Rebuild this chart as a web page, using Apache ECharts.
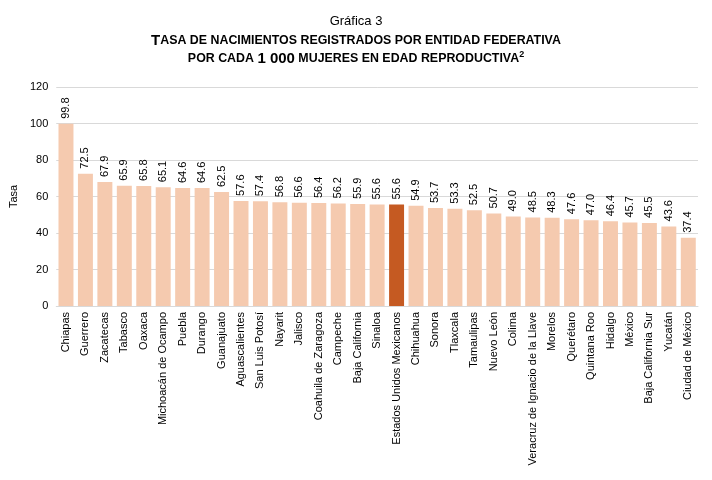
<!DOCTYPE html>
<html><head><meta charset="utf-8">
<script src="https://cdn.jsdelivr.net/npm/echarts@6/dist/echarts.min.js"></script>
<style>html,body{margin:0;padding:0;background:#fff}#c{width:712px;height:480px}</style>
</head><body><div id="c"></div>
<script>
var categories = ["Chiapas","Guerrero","Zacatecas","Tabasco","Oaxaca","Michoacán de Ocampo","Puebla","Durango","Guanajuato","Aguascalientes","San Luis Potosí","Nayarit","Jalisco","Coahuila de Zaragoza","Campeche","Baja California","Sinaloa","Estados Unidos Mexicanos","Chihuahua","Sonora","Tlaxcala","Tamaulipas","Nuevo León","Colima","Veracruz de Ignacio de la Llave","Morelos","Querétaro","Quintana Roo","Hidalgo","México","Baja California Sur","Yucatán","Ciudad de México"];
var values = [99.8,72.5,67.9,65.9,65.8,65.1,64.6,64.6,62.5,57.6,57.4,56.8,56.6,56.4,56.2,55.9,55.6,55.6,54.9,53.7,53.3,52.5,50.7,49.0,48.5,48.3,47.6,47.0,46.4,45.7,45.5,43.6,37.4];
var highlight = "Estados Unidos Mexicanos";
var yTicks = [0,20,40,60,80,100,120];

var chart = echarts.init(document.getElementById('c'), null, {renderer:'canvas'});
var font = 'Liberation Sans, Arial, sans-serif';
chart.setOption({
  animation:false,
  textStyle:{fontFamily:font},
  title:[{
    text:'Gráfica 3', left:'center', top:10,
    textStyle:{fontFamily:font,fontSize:13,fontWeight:'normal',color:'#000'}
  },{
    text:'{b|T}{s|ASA DE NACIMIENTOS REGISTRADOS POR ENTIDAD FEDERATIVA}\n{s|POR CADA }{b|1 000}{s| MUJERES EN EDAD REPRODUCTIVA}{sup|2}',
    left:'center', top:27,
    textStyle:{fontFamily:font,lineHeight:18,rich:{
      b:{fontFamily:font,fontSize:15,fontWeight:'bold',color:'#000',lineHeight:18},
      s:{fontFamily:font,fontSize:12.4,fontWeight:'bold',color:'#000',lineHeight:18},
      sup:{fontFamily:font,fontSize:9,fontWeight:'bold',color:'#000',verticalAlign:'top',lineHeight:18,padding:[0,0,6,0]}
    }}
  }],
  grid:{left:52,right:14,top:87,bottom:174},
  xAxis:{
    type:'category', data:categories,
    axisLine:{lineStyle:{color:'#D9D9D9'}},
    axisTick:{show:false},
    axisLabel:{rotate:90,interval:0,fontSize:11,color:'#000',fontFamily:font,margin:6}
  },
  yAxis:{
    type:'value', min:yTicks[0], max:yTicks[yTicks.length-1], interval:20,
    name:'Tasa', nameLocation:'middle', nameGap:35, nameRotate:90,
    nameTextStyle:{fontSize:11,color:'#000',fontFamily:font},
    axisLine:{show:false}, axisTick:{show:false},
    axisLabel:{fontSize:11,color:'#000',fontFamily:font,margin:8},
    splitLine:{lineStyle:{color:'#D9D9D9'}}
  },
  series:[{
    type:'bar',
    data:values.map(function(v,i){
      return {value:v,itemStyle:{color: categories[i]===highlight ? '#C55A22' : '#F5CAAF'}};
    }),
    barCategoryGap:'23%',
    label:{show:true,position:'top',rotate:90,align:'left',verticalAlign:'middle',distance:5,
      fontSize:11,color:'#000',fontFamily:font,
      formatter:function(p){return p.value.toFixed(1);}}
  }]
});
</script></body></html>
